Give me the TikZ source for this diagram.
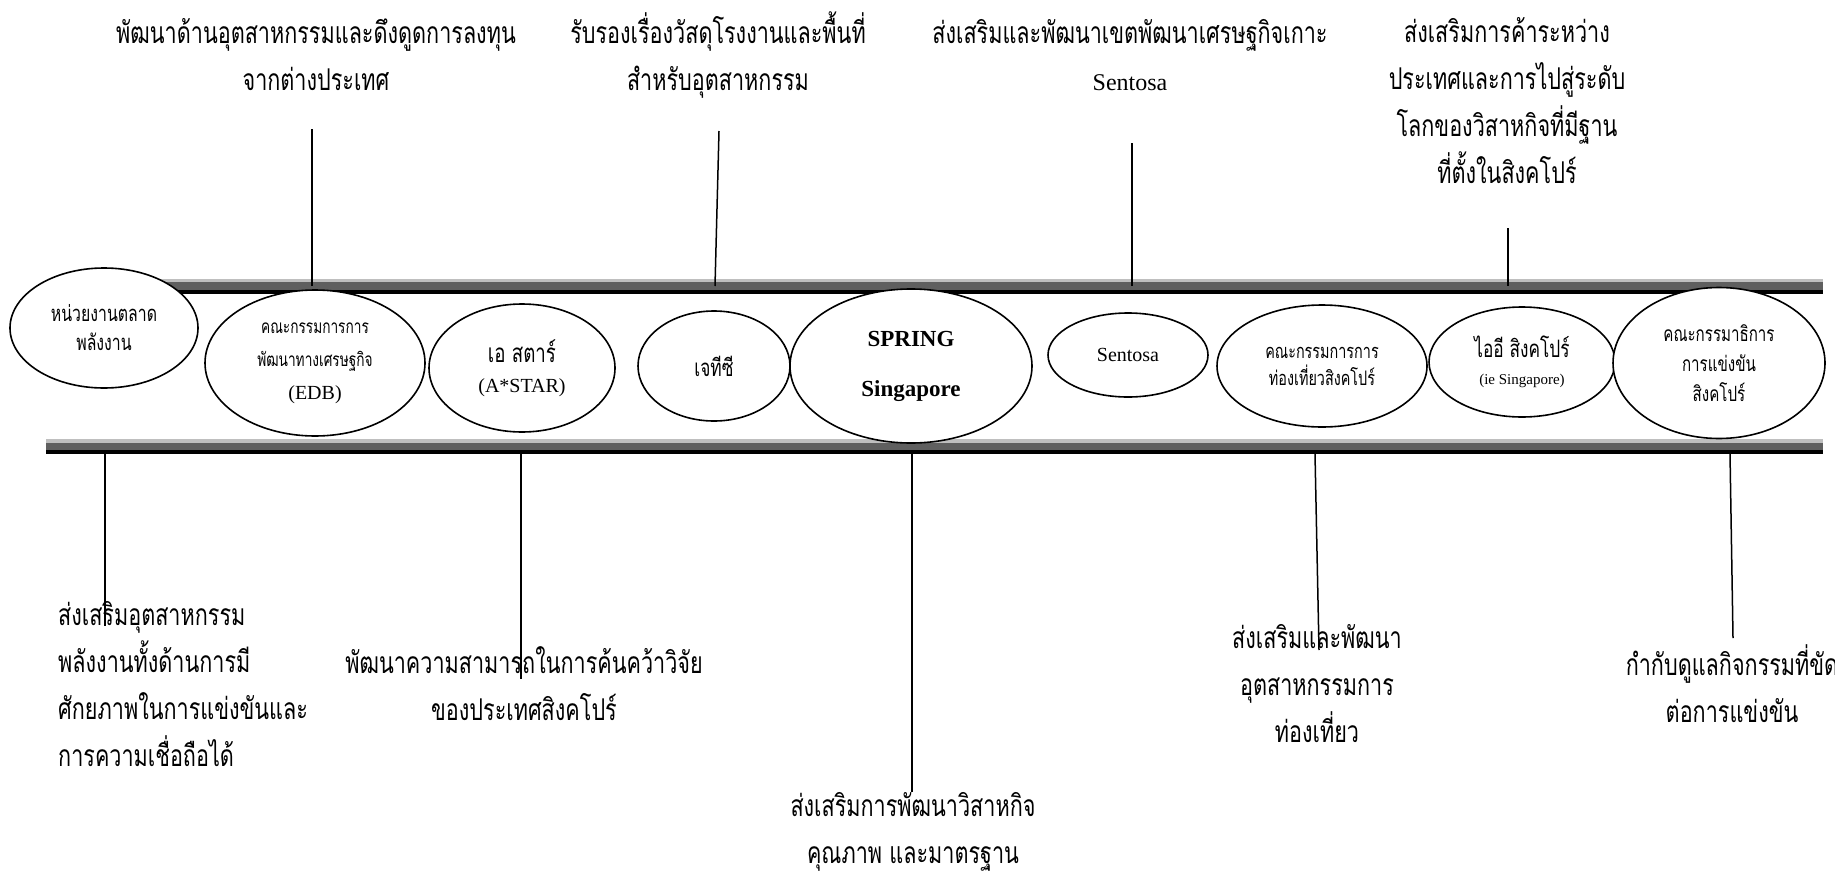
\documentclass[tikz,border=0pt]{standalone}
\usepackage{fontspec}
\setmainfont{Liberation Serif}
\newfontfamily\thai[Script=Thai, FakeStretch=0.72]{Loma}
\usepackage{tikz}
\usetikzlibrary{shapes.geometric}
\definecolor{barlight}{HTML}{BFBFBF}
\definecolor{bardark}{HTML}{5F5F5F}

\begin{document}
\begin{tikzpicture}[x=1pt, y=-1pt,
  org/.style 2 args={draw, ellipse, fill=white, line width=1.6pt, inner sep=0pt, align=center, minimum width=#1, minimum height=#2},
  duty/.style={align=center, inner sep=0pt, font=\thai\fontsize{30}{47}\selectfont},
  stem/.style={line width=1.5pt}
]
\useasboundingbox (0,0) rectangle (1835,875);
% the two rails
\fill[barlight] (140,279) rectangle (1823,282);
\fill[bardark] (140,282) rectangle (1823,290);
\fill[black] (140,290) rectangle (1823,294);
\fill[barlight] (46,439) rectangle (1823,443);
\fill[bardark] (46,443) rectangle (1823,450);
\fill[black] (46,450) rectangle (1823,454);
% stems
\coordinate (edbtop) at (312,129);    \coordinate (edbrail) at (312,286);
\coordinate (jtctop) at (719,131);    \coordinate (jtcrail) at (715,286);
\coordinate (sentosatop) at (1132,143); \coordinate (sentosarail) at (1132,286);
\coordinate (iesgtop) at (1508,228);  \coordinate (iesgrail) at (1508,286);
\coordinate (energyrail) at (105,454); \coordinate (energyend) at (105,626);
\coordinate (astarrail) at (521,454); \coordinate (astarend) at (521,679);
\coordinate (springrail) at (912,454); \coordinate (springend) at (912,792);
\coordinate (stbrail) at (1315,454);  \coordinate (stbend) at (1319,650);
\coordinate (ccsrail) at (1730,454);  \coordinate (ccsend) at (1733,638);
\draw[stem] (edbtop) -- (edbrail);
\draw[stem] (jtctop) -- (jtcrail);
\draw[stem] (sentosatop) -- (sentosarail);
\draw[stem] (iesgtop) -- (iesgrail);
\draw[stem] (energyrail) -- (energyend);
\draw[stem] (astarrail) -- (astarend);
\draw[stem] (springrail) -- (springend);
\draw[stem] (stbrail) -- (stbend);
\draw[stem] (ccsrail) -- (ccsend);
% agencies
\node[org={188}{120}, font=\thai\fontsize{22}{29}\selectfont] (energy) at (104,328) {หน่วยงานตลาด\\พลังงาน};
\node[org={220}{146}, font=\thai\fontsize{19}{33}\selectfont] (edb) at (315,363) {คณะกรรมการการ\\พัฒนาทางเศรษฐกิจ\\\rmfamily\fontsize{20}{33}\selectfont (EDB)};
\node[org={186}{128}, font=\thai\fontsize{26}{30}\selectfont] (astar) at (522,368) {เอ สตาร์\\\rmfamily\fontsize{20}{30}\selectfont (A*STAR)};
\node[org={152}{110}, font=\thai\fontsize{24}{30}\selectfont] (jtc) at (714,366) {เจทีซี};
\node[org={242}{154}, font=\rmfamily\bfseries\fontsize{23}{50}\selectfont] (spring) at (911,366) {SPRING\\Singapore};
\node[org={160}{84}, font=\rmfamily\fontsize{20}{24}\selectfont] (sentosa) at (1128,355) {Sentosa};
\node[org={210}{122}, font=\thai\fontsize{20}{27}\selectfont] (stb) at (1322,366) {คณะกรรมการการ\\ท่องเที่ยวสิงคโปร์};
\node[org={186}{110}, font=\thai\fontsize{24}{27}\selectfont] (iesg) at (1522,362) {ไออี สิงคโปร์\\\rmfamily\fontsize{15}{27}\selectfont (ie Singapore)};
\node[org={212}{151}, font=\thai\fontsize{21}{30}\selectfont] (ccs) at (1719,363) {คณะกรรมาธิการ\\การแข่งขัน\\สิงคโปร์};
% what each one does
\node[duty] (edbduty) at (316,55) {พัฒนาด้านอุตสาหกรรมและดึงดูดการลงทุน\\จากต่างประเทศ};
\node[duty] (jtcduty) at (718,55) {รับรองเรื่องวัสดุโรงงานและพื้นที่\\สำหรับอุตสาหกรรม};
\node[duty] (sentosaduty) at (1130,55) {ส่งเสริมและพัฒนาเขตพัฒนาเศรษฐกิจเกาะ\\\rmfamily\fontsize{24}{47}\selectfont Sentosa};
\node[duty] (iesgduty) at (1507,101) {ส่งเสริมการค้าระหว่าง\\ประเทศและการไปสู่ระดับ\\โลกของวิสาหกิจที่มีฐาน\\ที่ตั้งในสิงคโปร์};
\node[duty, align=left, anchor=west] (energyduty) at (58,684) {ส่งเสริมอุตสาหกรรม\\พลังงานทั้งด้านการมี\\ศักยภาพในการแข่งขันและ\\การความเชื่อถือได้};
\node[duty] (astarduty) at (524,684) {พัฒนาความสามารถในการค้นคว้าวิจัย\\ของประเทศสิงคโปร์};
\node[duty] (springduty) at (913,832) {ส่งเสริมการพัฒนาวิสาหกิจ\\คุณภาพ และมาตรฐาน};
\node[duty] (stbduty) at (1317,684) {ส่งเสริมและพัฒนา\\อุตสาหกรรมการ\\ท่องเที่ยว};
\node[duty] (ccsduty) at (1732,684) {กำกับดูแลกิจกรรมที่ขัด\\ต่อการแข่งขัน};
\end{tikzpicture}
\end{document}
